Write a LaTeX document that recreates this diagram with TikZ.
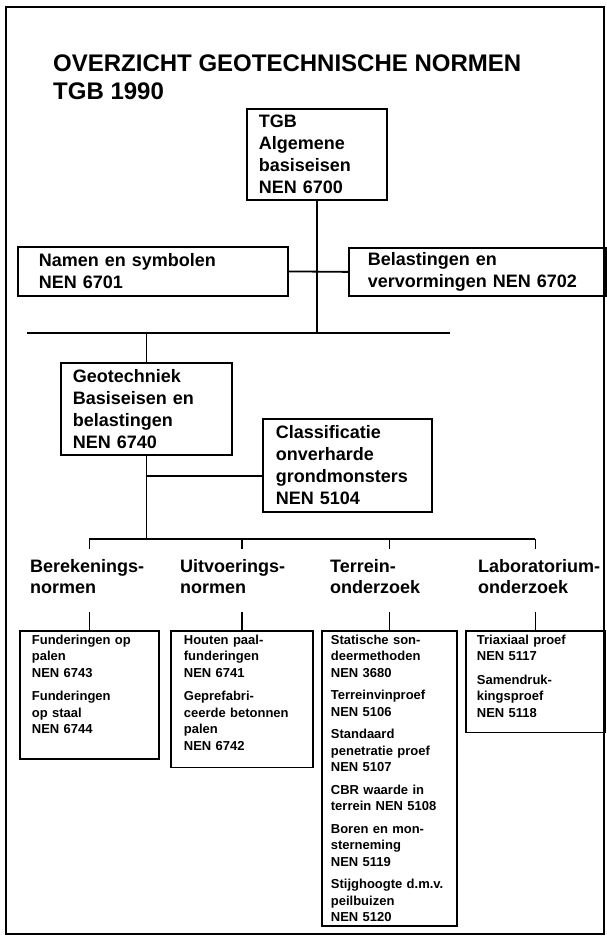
\documentclass[tikz,border=0pt]{standalone}
\usepackage{fontspec}
\setmainfont{Liberation Sans}

\tikzset{
  lijn/.style={line width=1.8pt},
  kopbox/.style={draw, line width=1.8pt, anchor=north west, align=left,
    inner ysep=0pt, font=\fontsize{18}{22}\selectfont\bfseries},
  groep/.style={anchor=base west, align=left, inner sep=0pt,
    font=\fontsize{18}{21}\selectfont\bfseries},
  normbox/.style={draw, line width=1.8pt, anchor=north west, align=left,
    inner ysep=4pt, font=\fontsize{13}{16.5}\selectfont\bfseries,
    execute at end node={\par\vspace{#1}}},
}

\begin{document}
\begin{tikzpicture}[x=1pt,y=-1pt]
  \useasboundingbox (0,0) rectangle (607,936);

  % kader
  \draw[lijn] (6,7) rectangle (604,934);

  % titel (base = laatste regel)
  \node[anchor=base west, align=left, inner sep=0pt,
    font=\fontsize{24}{28}\selectfont\bfseries] (titel) at (53,100)
    {OVERZICHT GEOTECHNISCHE NORMEN\\TGB 1990};

  % bovenste niveau
  \node[kopbox, text width=116pt, inner xsep=12pt, minimum height=91pt]
    (tgb) at (246,108) {TGB\\Algemene\\basiseisen\\NEN 6700};
  \node[kopbox, text width=228pt, inner xsep=21pt, minimum height=49pt]
    (namen) at (17,246) {Namen en symbolen\\NEN 6701};
  \node[kopbox, text width=219pt, inner xsep=19pt, minimum height=48pt]
    (belast) at (348,247) {Belastingen en\\vervormingen NEN 6702};

  % geotechniek
  \node[kopbox, text width=147pt, inner xsep=12pt, minimum height=92pt]
    (geotech) at (60,362) {Geotechniek\\Basiseisen en\\belastingen\\NEN 6740};
  \node[kopbox, text width=143pt, inner xsep=13pt, minimum height=93pt]
    (class) at (262,418) {Classificatie\\onverharde\\grondmonsters\\NEN 5104};

  % groepen
  \node[groep] (bereken) at (30,593) {Berekenings-\\normen};
  \node[groep] (uitvoer) at (180,593) {Uitvoerings-\\normen};
  \node[groep] (terrein) at (330,593) {Terrein-\\onderzoek};
  \node[groep] (lab) at (478,593) {Laboratorium-\\onderzoek};

  % normen per groep
  \node[normbox=21pt, text width=115pt, inner xsep=12pt] (berbox) at (19,630)
    {Funderingen op\\palen\\NEN 6743\\[7pt]Funderingen\\op staal\\NEN 6744};
  \node[normbox=13pt, text width=116pt, inner xsep=13pt] (uitbox) at (170,630)
    {Houten paal-\\funderingen\\NEN 6741\\[7pt]Geprefabri-\\ceerde betonnen\\palen\\NEN 6742};
  \node[normbox=0pt, text width=117pt, inner xsep=9pt] (terbox) at (321,630)
    {Statische son-\\deermethoden\\NEN 3680\\[6pt]Terreinvinproef\\NEN 5106\\[6pt]%
     Standaard\\penetratie proef\\NEN 5107\\[6pt]CBR waarde in\\terrein NEN 5108\\[6pt]%
     Boren en mon-\\sterneming\\NEN 5119\\[6pt]Stijghoogte d.m.v.\\peilbuizen\\NEN 5120};
  \node[normbox=11pt, text width=117pt, inner xsep=11pt] (labbox) at (465,630)
    {Triaxiaal proef\\NEN 5117\\[7pt]Samendruk-\\kingsproef\\NEN 5118};

  % verbindingen
  \coordinate (lijnL) at (27,333);
  \coordinate (lijnR) at (450,333);
  \coordinate (aftak) at (0,476);
  \coordinate (bus) at (141,539);

  \draw[lijn] (tgb.south) -- (tgb.south |- lijnL);
  \draw[lijn] (namen.east) -- (belast.west);
  \draw[lijn] (lijnL) -- (lijnR);
  \draw[lijn] (geotech.north |- lijnL) -- (geotech.north);
  \draw[lijn] (geotech.south) -- (geotech.south |- bus);
  \draw[lijn] (geotech.south |- aftak) -- (class.west |- aftak);
  \draw[lijn] (bus -| berbox.north) -- (bus -| labbox.north);
  \foreach \b in {berbox,uitbox,terbox,labbox}{
    \draw[lijn] (bus -| \b.north) -- ++(0,10);
    \draw[lijn] (\b.north) -- ++(0,-18);
  }
\end{tikzpicture}
\end{document}
